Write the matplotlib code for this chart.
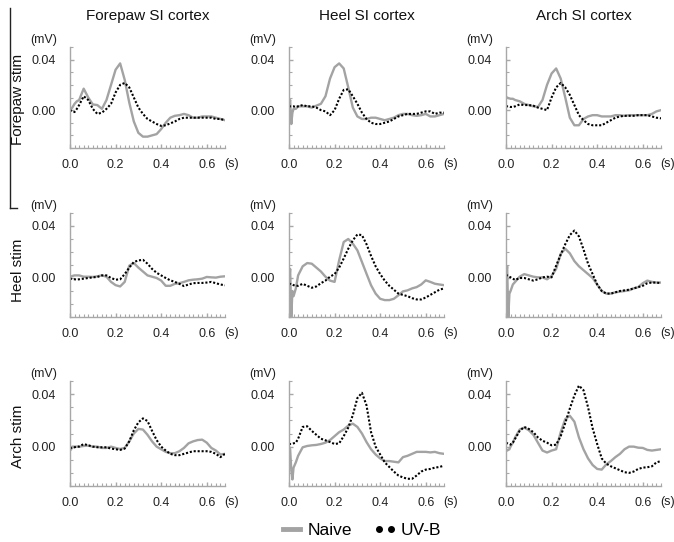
import matplotlib
matplotlib.use("Agg")
import matplotlib.pyplot as plt
from matplotlib.lines import Line2D
from matplotlib.legend_handler import HandlerLine2D

plt.rcParams['font.family'] = ['Liberation Sans', 'DejaVu Sans']

# time axis (s)
T = [0.000, 0.005, 0.010, 0.015, 0.020, 0.030, 0.040, 0.06, 0.08, 0.10, 0.12, 0.14,
     0.16, 0.18, 0.20, 0.22, 0.24, 0.26, 0.28, 0.30, 0.32, 0.34, 0.36, 0.38, 0.40,
     0.42, 0.44, 0.46, 0.48, 0.50, 0.52, 0.54, 0.56, 0.58, 0.60, 0.62, 0.64, 0.66, 0.68]

col_titles = ["Forepaw SI cortex", "Heel SI cortex", "Arch SI cortex"]
row_titles = ["Forepaw stim", "Heel stim", "Arch stim"]
series_labels = ["Naive", "UV-B"]

# Row 1: forepaw stimulation (mV)
naive_fp_fp = [0.000, 0.001, 0.002, 0.0035, 0.005, 0.007, 0.008,
               0.017, 0.010, 0.0045, 0.004, 0.001, 0.008, 0.020, 0.032, 0.037, 0.024,
               0.006, -0.009, -0.018, -0.021, -0.021, -0.020, -0.019, -0.015, -0.010, -0.006,
               -0.0045, -0.004, -0.003, -0.004, -0.006, -0.006, -0.005, -0.005, -0.005, -0.006,
               -0.007, -0.008]
uvb_fp_fp = [0.000, -0.0005, -0.001, -0.0015, -0.0015, 0.001, 0.004,
             0.011, 0.008, 0.001, -0.003, -0.002, 0.001, 0.005, 0.014, 0.020, 0.0215,
             0.018, 0.010, 0.002, -0.003, -0.007, -0.009, -0.011, -0.0125, -0.012, -0.0105,
             -0.009, -0.007, -0.006, -0.006, -0.006, -0.006, -0.006, -0.006, -0.006, -0.007,
             -0.007, -0.008]
naive_fp_heel = [0.003, 0.008, -0.011, -0.002, 0.001, 0.001, 0.003,
                 0.003, 0.003, 0.002, 0.0035, 0.005, 0.011, 0.025, 0.034, 0.037, 0.033,
                 0.018, 0.002, -0.005, -0.007, -0.007, -0.006, -0.006, -0.007, -0.008, -0.007,
                 -0.006, -0.004, -0.003, -0.003, -0.004, -0.0045, -0.004, -0.003, -0.005, -0.005,
                 -0.004, -0.003]
uvb_fp_heel = [0.003, 0.003, 0.003, 0.003, 0.003, 0.0025, 0.003,
               0.004, 0.003, 0.003, 0.002, 0.000, -0.001, -0.004, 0.000, 0.009, 0.016,
               0.0165, 0.011, 0.005, -0.002, -0.007, -0.010, -0.011, -0.011, -0.010, -0.009,
               -0.007, -0.005, -0.004, -0.003, -0.003, -0.003, -0.002, -0.001, -0.001, -0.003,
               -0.002, -0.002]
naive_fp_arch = [0.010, 0.010, 0.0095, 0.0093, 0.009, 0.009, 0.008,
                 0.007, 0.005, 0.004, 0.003, 0.0025, 0.008, 0.020, 0.029, 0.033, 0.025,
                 0.010, -0.006, -0.012, -0.012, -0.007, -0.005, -0.004, -0.004, -0.005, -0.005,
                 -0.005, -0.004, -0.004, -0.0045, -0.004, -0.004, -0.004, -0.004, -0.004, -0.003,
                 -0.001, 0.000]
uvb_fp_arch = [0.003, 0.003, 0.003, 0.0028, 0.0025, 0.0025, 0.003,
               0.0045, 0.004, 0.004, 0.0035, 0.002, 0.001, 0.000, 0.010, 0.018, 0.0215,
               0.018, 0.012, 0.004, -0.004, -0.008, -0.011, -0.012, -0.012, -0.012, -0.010,
               -0.008, -0.006, -0.005, -0.0045, -0.0045, -0.0045, -0.004, -0.004, -0.004, -0.005,
               -0.006, -0.0065]

# Row 2: heel stimulation (mV)
naive_heel_fp = [0.001, 0.0012, 0.0015, 0.0018, 0.002, 0.002, 0.002,
                 0.001, 0.001, 0.0008, 0.0013, 0.002, 0.001, -0.003, -0.0055, -0.0065, -0.003,
                 0.0095, 0.0115, 0.008, 0.005, 0.002, 0.001, 0.000, -0.002, -0.006, -0.006,
                 -0.0045, -0.004, -0.003, -0.0018, -0.0013, -0.001, -0.0005, 0.0008, 0.0005, 0.0003,
                 0.001, 0.0013]
uvb_heel_fp = [-0.0005, -0.0006, -0.0008, -0.0009, -0.001, -0.0012, -0.001,
               -0.0005, 0.000, 0.0005, 0.0008, 0.002, 0.002, 0.000, -0.0013, -0.001, 0.003,
               0.008, 0.0123, 0.0135, 0.014, 0.011, 0.007, 0.004, 0.002, 0.000, -0.0018,
               -0.003, -0.0045, -0.0062, -0.005, -0.004, -0.0038, -0.0038, -0.0035, -0.003, -0.004,
               -0.005, -0.0056]
naive_heel_heel = [-0.004, 0.007, -0.030, -0.010, -0.014, -0.008, 0.002,
                   0.009, 0.0115, 0.011, 0.008, 0.005, 0.001, -0.002, -0.003, 0.0136, 0.0277,
                   0.030, 0.0264, 0.0213, 0.0123, 0.0033, -0.0056, -0.012, -0.016, -0.017, -0.017,
                   -0.016, -0.0133, -0.0103, -0.0095, -0.008, -0.007, -0.005, -0.0018, -0.003, -0.0044,
                   -0.005, -0.0055]
uvb_heel_heel = [-0.0045, -0.0045, -0.005, -0.005, -0.0055, -0.006, -0.006,
                 -0.0045, -0.006, -0.0075, -0.0065, -0.004, -0.002, 0.001, 0.003, 0.008, 0.015,
                 0.0225, 0.029, 0.0335, 0.033, 0.026, 0.017, 0.009, 0.003, -0.002, -0.006,
                 -0.009, -0.012, -0.013, -0.014, -0.0155, -0.0165, -0.0165, -0.015, -0.013, -0.011,
                 -0.009, -0.008]
naive_heel_arch = [0.000, 0.009, -0.030, -0.012, -0.010, -0.005, -0.003,
                   0.001, 0.003, 0.002, 0.001, 0.0005, 0.0005, -0.001, 0.0015, 0.007, 0.0186,
                   0.0225, 0.019, 0.013, 0.009, 0.006, 0.003, 0.000, -0.005, -0.010, -0.012,
                   -0.012, -0.011, -0.0105, -0.010, -0.0095, -0.008, -0.007, -0.004, -0.002, -0.003,
                   -0.0035, -0.0035]
uvb_heel_arch = [0.0025, 0.002, 0.0015, 0.001, 0.0005, -0.0005, -0.0015,
                 0.000, 0.000, -0.001, -0.002, -0.001, 0.0005, 0.001, 0.0005, 0.0095, 0.018,
                 0.026, 0.033, 0.0365, 0.032, 0.022, 0.011, 0.003, -0.005, -0.010, -0.012,
                 -0.012, -0.011, -0.010, -0.0095, -0.009, -0.008, -0.007, -0.006, -0.004, -0.0035,
                 -0.0035, -0.004]

# Row 3: arch stimulation (mV)
naive_arch_fp = [-0.003, -0.002, 0.000, 0.000, 0.000, 0.000, 0.000,
                 0.0005, 0.0008, 0.000, 0.000, -0.001, -0.001, 0.000, -0.001, -0.0018, -0.001,
                 0.004, 0.010, 0.0135, 0.013, 0.009, 0.004, 0.000, -0.002, -0.004, -0.005,
                 -0.005, -0.0035, -0.001, 0.0025, 0.004, 0.005, 0.0053, 0.003, -0.001, -0.003,
                 -0.006, -0.0055]
uvb_arch_fp = [-0.001, -0.001, -0.0008, -0.0005, -0.0005, 0.000, 0.000,
               0.002, 0.001, 0.000, -0.0005, -0.0005, -0.0005, -0.0015, -0.002, -0.0025, -0.0015,
               0.004, 0.0125, 0.0185, 0.0215, 0.0195, 0.012, 0.005, 0.000, -0.003, -0.0055,
               -0.0065, -0.0065, -0.0055, -0.0045, -0.0035, -0.0035, -0.0035, -0.0035, -0.004, -0.0055,
               -0.008, -0.0055]
naive_arch_heel = [0.000, -0.002, -0.018, -0.025, -0.016, -0.012, -0.007,
                   -0.0005, 0.0005, 0.001, 0.0013, 0.002, 0.003, 0.005, 0.008, 0.011, 0.013,
                   0.016, 0.0175, 0.015, 0.010, 0.0035, -0.002, -0.006, -0.009, -0.011, -0.011,
                   -0.0115, -0.012, -0.008, -0.007, -0.0055, -0.004, -0.004, -0.004, -0.0044, -0.004,
                   -0.005, -0.0055]
uvb_arch_heel = [0.002, 0.002, 0.002, 0.0022, 0.0025, 0.003, 0.006,
                 0.015, 0.0155, 0.012, 0.009, 0.006, 0.0048, 0.0035, 0.002, 0.0025, 0.008,
                 0.0145, 0.024, 0.037, 0.041, 0.0315, 0.011, 0.000, -0.006, -0.012, -0.0155,
                 -0.019, -0.022, -0.0235, -0.0245, -0.0245, -0.022, -0.019, -0.0175, -0.017, -0.016,
                 -0.0155, -0.0145]
naive_arch_arch = [-0.002, -0.003, -0.0025, -0.002, 0.000, 0.003, 0.007,
                   0.013, 0.0145, 0.0125, 0.009, 0.003, -0.003, -0.0045, -0.003, -0.002, 0.011,
                   0.021, 0.0235, 0.019, 0.007, -0.002, -0.009, -0.014, -0.017, -0.0175, -0.0135,
                   -0.011, -0.008, -0.0055, -0.002, 0.000, 0.000, -0.0008, -0.001, -0.0025, -0.003,
                   -0.0025, -0.002]
uvb_arch_arch = [0.0026, 0.0026, 0.0025, 0.002, 0.0015, 0.003, 0.006,
                 0.012, 0.015, 0.0135, 0.011, 0.007, 0.0045, 0.003, 0.001, 0.0015, 0.008,
                 0.018, 0.029, 0.039, 0.0465, 0.043, 0.030, 0.014, 0.002, -0.009, -0.013,
                 -0.015, -0.0165, -0.018, -0.0195, -0.020, -0.019, -0.017, -0.016, -0.0157, -0.015,
                 -0.012, -0.011]

panels = [
    [(naive_fp_fp, uvb_fp_fp), (naive_fp_heel, uvb_fp_heel), (naive_fp_arch, uvb_fp_arch)],
    [(naive_heel_fp, uvb_heel_fp), (naive_heel_heel, uvb_heel_heel), (naive_heel_arch, uvb_heel_arch)],
    [(naive_arch_fp, uvb_arch_fp), (naive_arch_heel, uvb_arch_heel), (naive_arch_arch, uvb_arch_arch)],
]

W, H = 674, 542
fig = plt.figure(figsize=(W / 100, H / 100), dpi=100)

col_left = [70, 289, 506]
ax_w = 155
row_top = [47, 213, 381]
row_h = [101, 104, 105]

GRAY = '#a3a3a3'
AXC = '#a8a8a8'

def fx(px):
    return px / W

def fy(py):
    return 1 - py / H

for r in range(3):
    for c in range(3):
        left = col_left[c]
        top = row_top[r]
        h = row_h[r]
        ax = fig.add_axes([fx(left), fy(top + h), ax_w / W, h / H])
        naive, uvb = panels[r][c]
        ax.plot(T, naive, color=GRAY, lw=1.7, solid_joinstyle='round')
        ax.plot(T, uvb, color='black', lw=1.5, linestyle=(0, (1.0, 0.9)))
        ax.set_xlim(0, 0.68)
        ax.set_ylim(-0.03, 0.05)
        for s in ['top', 'right']:
            ax.spines[s].set_visible(False)
        for s in ['left', 'bottom']:
            ax.spines[s].set_color(AXC)
            ax.spines[s].set_linewidth(1.0)
        ax.set_xticks([0.0, 0.2, 0.4, 0.6])
        ax.set_xticklabels(['0.0', '0.2', '0.4', '0.6'])
        ax.set_xticks([i * 0.02 for i in range(35)], minor=True)
        ax.set_yticks([0.0, 0.04])
        ax.set_yticklabels(['0.00', '0.04'])
        ax.set_yticks([-0.03 + i * 0.01 for i in range(9)], minor=True)
        ax.tick_params(which='both', direction='in', color=AXC, labelsize=9,
                       labelcolor='#222222')
        ax.tick_params(which='major', length=3, width=1)
        ax.tick_params(which='minor', length=2, width=0.8)
        ax.tick_params(axis='y', pad=10)
        ax.tick_params(axis='x', pad=8)
        # unit labels
        fig.text(fx(left - 26), fy(top - 7), '(mV)', ha='center', va='center',
                 fontsize=9, color='#222222')
        fig.text(fx(left + ax_w + 7), fy(top + h + 16), '(s)', ha='center', va='center',
                 fontsize=9, color='#222222')
        if r == 0:
            fig.text(fx(left + ax_w / 2), fy(16), col_titles[c], ha='center', va='center',
                     fontsize=11, color='#111111')

row_centers = [99, 270, 436]
for r in range(3):
    fig.text(fx(18), fy(row_centers[r]), row_titles[r], rotation=90, ha='center',
             va='center', fontsize=11, color='#111111')

# vertical bracket line at left
fig.add_artist(Line2D([fx(10), fx(10)], [fy(8), fy(208)], color='#222222', lw=1.0))
fig.add_artist(Line2D([fx(10), fx(17)], [fy(208), fy(208)], color='#222222', lw=1.0))

h_naive = Line2D([], [], color=GRAY, lw=3.5)
h_uvb = Line2D([], [], color='black', ls='none', marker='o', markersize=4)
fig.legend([h_naive, h_uvb], series_labels, loc='center', bbox_to_anchor=(fx(362), fy(530)),
           ncol=2, frameon=False, fontsize=12.5, handlelength=1.0,
           columnspacing=1.4, handletextpad=0.4, borderaxespad=0, borderpad=0,
           handler_map={h_naive: HandlerLine2D(numpoints=1),
                        h_uvb: HandlerLine2D(numpoints=2, marker_pad=0.15)})

fig.savefig('out.png', dpi=100)
